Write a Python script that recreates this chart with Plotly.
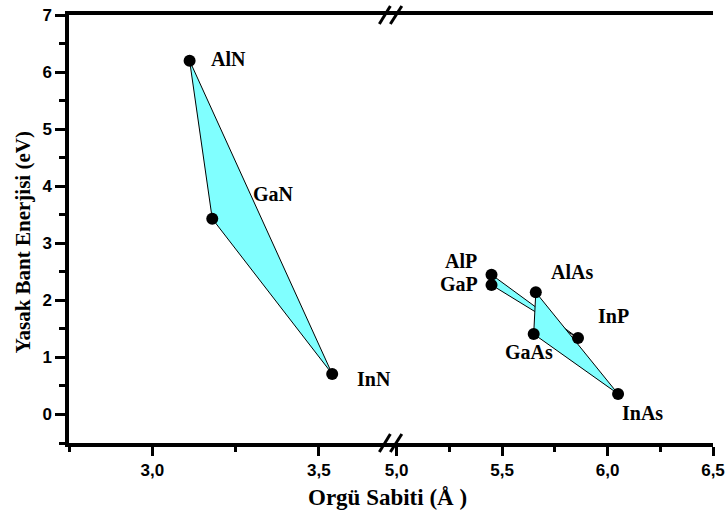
import plotly.graph_objects as go

# Nitride group (left axis segment)
nitride_names = ["AlN", "GaN", "InN"]
nitride_a = [3.112, 3.18, 3.54]
nitride_eg = [6.2, 3.43, 0.71]

# Phosphide / arsenide group (right axis segment)
pa_names = ["AlP", "GaP", "AlAs", "GaAs", "InP", "InAs"]
pa_a = [5.45, 5.45, 5.66, 5.65, 5.86, 6.05]
pa_eg = [2.45, 2.27, 2.14, 1.41, 1.34, 0.36]

# Label anchor points (data coords) for each compound
nitride_label_x = [3.23, 3.365, 3.665]
nitride_label_y = [6.23, 3.865, 0.625]
pa_label_x = [5.305, 5.295, 5.831, 5.627, 6.03, 6.167]
pa_label_y = [2.69, 2.29, 2.50, 1.10, 1.73, 0.03]

# Ternary alloy regions, given as vertex names
nitride_regions = [["AlN", "GaN", "InN"]]
pa_regions = [["AlP", "GaP", "InP"], ["AlAs", "GaAs", "InAs"]]

y_major = [0, 1, 2, 3, 4, 5, 6, 7]
y_minor = [-0.5, 0.5, 1.5, 2.5, 3.5, 4.5, 5.5, 6.5]
x1_major = [3.0, 3.5]
x1_labels = ["3,0", "3,5"]
x1_minor = [2.75, 3.25]
x2_major = [5.0, 5.5, 6.0, 6.5]
x2_labels = ["5,0", "5,5", "6,0", "6,5"]
x2_minor = [5.25, 5.75, 6.25]

FILL = "#80FFFF"
SERIF = "Liberation Serif, Times New Roman, serif"
SANS = "Liberation Sans, Arial, sans-serif"

fig = go.Figure()


def add_regions(names, xs, ys, regions, xaxis):
    lookup = {n: (x, y) for n, x, y in zip(names, xs, ys)}
    for reg in regions:
        px = [lookup[n][0] for n in reg] + [lookup[reg[0]][0]]
        py = [lookup[n][1] for n in reg] + [lookup[reg[0]][1]]
        fig.add_trace(go.Scatter(
            x=px, y=py, xaxis=xaxis, yaxis="y", mode="lines",
            fill="toself", fillcolor=FILL,
            line=dict(color="black", width=1), hoverinfo="skip",
            showlegend=False))


add_regions(nitride_names, nitride_a, nitride_eg, nitride_regions, "x")
add_regions(pa_names, pa_a, pa_eg, pa_regions, "x2")

fig.add_trace(go.Scatter(x=nitride_a, y=nitride_eg, xaxis="x", yaxis="y",
                         mode="markers", text=nitride_names,
                         marker=dict(color="black", size=12),
                         showlegend=False))
fig.add_trace(go.Scatter(x=pa_a, y=pa_eg, xaxis="x2", yaxis="y",
                         mode="markers", text=pa_names,
                         marker=dict(color="black", size=12),
                         showlegend=False))

label_font = dict(family=SERIF, size=20, color="black", weight="bold")
for n, x, y in zip(nitride_names, nitride_label_x, nitride_label_y):
    fig.add_annotation(x=x, y=y, xref="x", yref="y", text=n, showarrow=False,
                       font=label_font, xanchor="center", yanchor="middle")
for n, x, y in zip(pa_names, pa_label_x, pa_label_y):
    fig.add_annotation(x=x, y=y, xref="x2", yref="y", text=n, showarrow=False,
                       font=label_font, xanchor="center", yanchor="middle")

# Axis titles
fig.add_annotation(x=0.495, y=-0.128, xref="paper", yref="paper",
                   text="Orgü Sabiti (Å )", showarrow=False,
                   font=dict(family=SERIF, size=23, color="black", weight="bold"),
                   xanchor="center", yanchor="middle")
fig.add_annotation(x=-0.072, y=0.468, xref="paper", yref="paper",
                   text="Yasak Bant Enerjisi (eV)", showarrow=False,
                   font=dict(family=SERIF, size=21, color="black", weight="bold"),
                   textangle=-90, xanchor="center", yanchor="middle")

# Axis break marks on bottom and top edges
split = 0.5044
for yc in (0.0, 1.0):
    for x0, x1 in ((0.4819, 0.499), (0.499, 0.5168)):
        fig.add_shape(type="line", xref="paper", yref="paper",
                      x0=x0, y0=yc - 0.021, x1=x1, y1=yc + 0.021,
                      line=dict(color="black", width=3))

tick_font = dict(family=SANS, size=17, color="black", weight="bold")
common_x = dict(showline=True, linewidth=3.5, linecolor="black", mirror=True,
                ticks="outside", ticklen=9, tickwidth=3, tickcolor="black",
                showgrid=False, zeroline=False, tickfont=tick_font,
                anchor="y", automargin=False)

fig.update_layout(
    width=727, height=513,
    margin=dict(l=69, r=14, t=15, b=70, autoexpand=False),
    plot_bgcolor="white", paper_bgcolor="white",
    showlegend=False,
    xaxis=dict(domain=[0, split], range=[2.75, 3.725],
               tickvals=x1_major, ticktext=x1_labels,
               minor=dict(tickvals=x1_minor, ticklen=5, tickwidth=3,
                          tickcolor="black", ticks="outside"),
               **common_x),
    xaxis2=dict(domain=[split, 1], range=[4.987, 6.5],
                tickvals=x2_major, ticktext=x2_labels,
                minor=dict(tickvals=x2_minor, ticklen=5, tickwidth=3,
                           tickcolor="black", ticks="outside"),
                **common_x),
    xaxis3=dict(overlaying="x", side="top", anchor="y", range=[2.75, 3.725],
                tickvals=x1_major + x1_minor, ticks="inside", ticklen=3,
                tickwidth=1.5, tickcolor="black", showticklabels=False,
                showgrid=False, zeroline=False, showline=False,
                automargin=False),
    xaxis4=dict(overlaying="x2", side="top", anchor="y", range=[4.987, 6.5],
                tickvals=x2_major + x2_minor, ticks="inside", ticklen=3,
                tickwidth=1.5, tickcolor="black", showticklabels=False,
                showgrid=False, zeroline=False, showline=False,
                automargin=False),
    yaxis=dict(domain=[0, 1], range=[-0.5, 7], anchor="x",
               tickvals=y_major, ticktext=[str(v) for v in y_major],
               minor=dict(tickvals=y_minor, ticklen=6, tickwidth=3,
                          tickcolor="black", ticks="outside"),
               showline=True, linewidth=3.5, linecolor="black",
               ticks="outside", ticklen=10, tickwidth=3, tickcolor="black",
               showgrid=False, zeroline=False, tickfont=tick_font,
               automargin=False),
    yaxis2=dict(overlaying="y", side="right", anchor="free", position=1,
                range=[-0.5, 7], tickvals=y_major + y_minor,
                ticks="inside", ticklen=3, tickwidth=1.5, tickcolor="black",
                showticklabels=False, showgrid=False, zeroline=False,
                showline=True, linewidth=3.5, linecolor="black",
                automargin=False),
)

fig.write_html("out.html")
